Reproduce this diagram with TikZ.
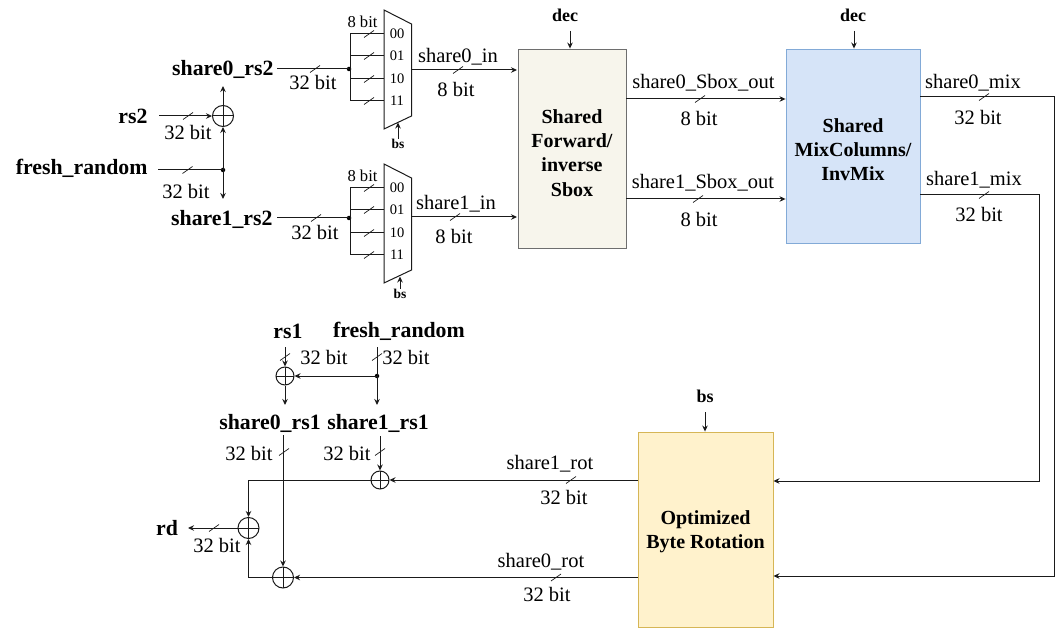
\documentclass[tikz,border=0pt]{standalone}
\usepackage{fontspec}
\setmainfont{Liberation Serif}
\usetikzlibrary{arrows.meta}
\definecolor{wirec}{HTML}{1A1A1A}
\newcommand{\bustick}[1]{\draw[line width=0.7pt, shift={#1}] (-5,3.5) -- (5,-3.5);}
\begin{document}
\begin{tikzpicture}[x=1pt, y=-1pt, >={Stealth[length=6pt,width=5.5pt]}, color=wirec, text=black,
    every path/.style={line width=1pt},
    block/.style={draw, line width=0.9pt, inner sep=0pt},
    blocktext/.style={inner sep=0pt, font=\fontsize{20}{24.3}\selectfont\bfseries, align=center},
    xorgate/.style={draw, circle, inner sep=0pt, minimum size=#1, path picture={
        \draw (path picture bounding box.north) -- (path picture bounding box.south);
        \draw (path picture bounding box.west) -- (path picture bounding box.east);}},
    dotnode/.style={circle, fill=black, inner sep=0pt, minimum size=4.5pt},
    lbl/.style={inner sep=0pt, font=\fontsize{20.5}{22}\selectfont},
    namelbl/.style={inner sep=0pt, font=\fontsize{21.8}{24}\selectfont\bfseries},
    ctrllbl/.style={inner sep=0pt, font=\fontsize{18}{20}\selectfont\bfseries},
    smalllbl/.style={inner sep=0pt, font=\fontsize{14.5}{16}\selectfont},
    tinylbl/.style={inner sep=0pt, font=\fontsize{13.5}{14}\selectfont\bfseries}]
    \useasboundingbox (0,0) rectangle (1060,628);

    \node[block, fill={rgb,255:red,247;green,245;blue,236}, draw={rgb,255:red,110;green,110;blue,110}, minimum width=108pt, minimum height=199pt] (sbox) at (572,148.5) {};
    \node[block, fill={rgb,255:red,214;green,228;blue,248}, draw={rgb,255:red,130;green,170;blue,215}, minimum width=134pt, minimum height=194pt] (mix) at (853,146) {};
    \node[block, fill={rgb,255:red,255;green,242;blue,204}, draw={rgb,255:red,214;green,182;blue,86}, minimum width=135pt, minimum height=195pt] (rot) at (705.5,529.5) {};
    \node[blocktext] (sboxtxt) at (572,153) {Shared\\Forward/\\inverse\\Sbox};
    \node[blocktext] (mixtxt) at (853,149.5) {Shared\\MixColumns/\\InvMix};
    \node[blocktext] (rottxt) at (705.5,532) {Optimized\\Byte Rotation};

    \foreach \muxname/\ytop/\yin/\yout/\xbs/\ybs in {muxa/10/69/70/398/144, muxb/164/218/217/400/294} {
        \draw (384,\ytop) -- (411.5,\ytop+14) -- (411.5,\ytop+106) -- (384,\ytop+119) -- cycle;
        \coordinate (\muxname out) at (411.5,\yout);
        \node[dotnode] (\muxname dot) at (349,\yin) {};
        \draw (350,\ytop+24) -- (350,\ytop+91);
        \foreach \yoff in {24,46,69,91} {
            \draw (350,\ytop+\yoff) -- (384,\ytop+\yoff);
            \bustick{(369,\ytop+\yoff)}
        }
        \node[smalllbl] (\muxname a) at (397,\ytop+24) {00};
        \node[smalllbl] (\muxname b) at (397,\ytop+46) {01};
        \node[smalllbl] (\muxname c) at (397,\ytop+69) {10};
        \node[smalllbl] (\muxname d) at (397,\ytop+91) {11};
        \node[lbl, font=\fontsize{16.6}{18}\selectfont] (\muxname w) at (362.5,\ytop+11.5) {8 bit};
        \node[tinylbl] (\muxname bs) at (\xbs,\ybs) {bs};
        \coordinate (\muxname sel) at (\xbs,\ytop+112.5);
        \draw[->] (\muxname bs.north) -- (\muxname sel);
    }

    \node[namelbl, anchor=east] (share0rs2) at (274,69) {share0\_rs2};
    \node[namelbl, anchor=east] (share1rs2) at (273,219) {share1\_rs2};
    \node[namelbl, anchor=east] (rs2) at (148,116) {rs2};
    \node[namelbl, anchor=east] (freshtop) at (148,168) {fresh\_random};
    \node[xorgate=21pt] (xora) at (223,116) {};
    \node[dotnode] (freshdot) at (223,170) {};
    \coordinate (rs2in) at (159,116);
    \coordinate (freshin) at (158,170);
    \coordinate (share0up) at (223,86);
    \coordinate (share1dn) at (223,199);
    \coordinate (share0wire) at (277,69);
    \coordinate (share1wire) at (277,218);
    \draw[->] (rs2in) -- (xora);
    \draw (freshin) -- (freshdot.center);
    \draw[->] (freshdot.center) -- (xora);
    \draw[->] (xora) -- (share0up);
    \draw[->] (freshdot.center) -- (share1dn);
    \draw (share0wire) -- (muxadot.center);
    \draw (share1wire) -- (muxbdot.center);
    \bustick{(188,116)}
    \bustick{(187.5,170)}
    \bustick{(315,69)}
    \bustick{(316,218)}
    \node[lbl] (w1) at (188,132) {32 bit};
    \node[lbl] (w2) at (186,191) {32 bit};
    \node[lbl] (w3) at (313,82) {32 bit};
    \node[lbl] (w4) at (315,232) {32 bit};

    \coordinate (sboxa) at (517,70);
    \coordinate (sboxb) at (517,217);
    \draw[->] (muxaout) -- (sboxa);
    \draw[->] (muxbout) -- (sboxb);
    \bustick{(458,70)}
    \bustick{(455,217)}
    \node[lbl] (sin0) at (458,57) {share0\_in};
    \node[lbl] (w5) at (456,89) {8 bit};
    \node[lbl] (sin1) at (456,204) {share1\_in};
    \node[lbl] (w6) at (454,236) {8 bit};

    \node[ctrllbl] (deca) at (565,15) {dec};
    \node[ctrllbl] (decb) at (853,15) {dec};
    \node[ctrllbl] (bsrot) at (705,396) {bs};
    \coordinate (decasrc) at (570,31);
    \coordinate (decbsrc) at (854,31);
    \coordinate (bssrc) at (705,412);
    \draw[->] (decasrc) -- (decasrc |- sbox.north);
    \draw[->] (decbsrc) -- (decbsrc |- mix.north);
    \draw[->] (bssrc) -- (bssrc |- rot.north);

    \coordinate (outa) at (sbox.east |- 0,99);
    \coordinate (outb) at (sbox.east |- 0,199);
    \draw[->] (outa) -- (mix.west |- outa);
    \draw[->] (outb) -- (mix.west |- outb);
    \bustick{(700,99)}
    \bustick{(698,199)}
    \node[lbl] (sout0) at (703.5,83) {share0\_Sbox\_out};
    \node[lbl] (w7) at (699,118) {8 bit};
    \node[lbl] (sout1) at (703,183) {share1\_Sbox\_out};
    \node[lbl] (w8) at (699,219) {8 bit};

    \coordinate (mixa) at (mix.east |- 0,97);
    \coordinate (mixb) at (mix.east |- 0,195);
    \draw[->] (mixa) -- (1054,97) -- (1054,576) -- (rot.east |- 0,576);
    \draw[->] (mixb) -- (1039,195) -- (1039,481) -- (rot.east |- 0,481);
    \bustick{(984,97)}
    \bustick{(984,195)}
    \node[lbl] (mix0) at (973,83) {share0\_mix};
    \node[lbl] (w9) at (978,117) {32 bit};
    \node[lbl] (mix1) at (974,180) {share1\_mix};
    \node[lbl] (w10) at (979,214) {32 bit};

    \node[namelbl] (rs1) at (288,331) {rs1};
    \node[namelbl] (freshlow) at (399,331) {fresh\_random};
    \node[xorgate=18pt] (xorb) at (285,376) {};
    \node[dotnode] (lowdot) at (377,376) {};
    \coordinate (rs1src) at (285,347);
    \coordinate (freshsrc) at (377,347);
    \coordinate (share0end) at (285,405);
    \coordinate (share1end) at (377,405);
    \draw[->] (rs1src) -- (rs1src |- xorb.north);
    \draw[->] (xorb) -- (share0end);
    \draw[->] (freshsrc) -- (share1end);
    \draw[->] (lowdot.center) -- (xorb);
    \bustick{(285,357)}
    \bustick{(377,357)}
    \node[lbl] (w11) at (324,357) {32 bit};
    \node[lbl] (w12) at (406,357) {32 bit};

    \node[namelbl] (share0rs1) at (270,423) {share0\_rs1};
    \node[namelbl] (share1rs1) at (378,423) {share1\_rs1};
    \node[lbl] (w13) at (249,453) {32 bit};
    \node[lbl] (w14) at (347,453) {32 bit};
    \node[xorgate=18pt] (xorc) at (380,480) {};
    \node[xorgate=21pt] (xord) at (283,577.5) {};
    \node[xorgate=21pt] (xorrd) at (248.5,528) {};
    \coordinate (share0src) at (283,435);
    \coordinate (share1src) at (380,436);
    \draw[->] (share1src) -- (xorc);
    \draw[->] (share0src) -- (xord);
    \bustick{(284,452)}
    \bustick{(380,452)}
    \draw[->] (rot.west |- 0,480) -- (xorc);
    \draw[->] (rot.west |- 0,577.5) -- (xord);
    \draw[->] (xorc) -- (248.5,480) -- (xorrd);
    \draw[->] (xord) -- (248.5,577.5) -- (xorrd);
    \bustick{(571,480)}
    \bustick{(556,577.5)}
    \node[lbl] (rot1) at (550,464) {share1\_rot};
    \node[lbl] (w15) at (564,497) {32 bit};
    \node[lbl] (rot0) at (541,562) {share0\_rot};
    \node[lbl] (w16) at (547,594) {32 bit};

    \node[namelbl] (rd) at (167,528) {rd};
    \coordinate (rdend) at (188,528);
    \draw[->] (xorrd) -- (rdend);
    \bustick{(214,528)}
    \node[lbl] (w17) at (217,545) {32 bit};
\end{tikzpicture}
\end{document}
